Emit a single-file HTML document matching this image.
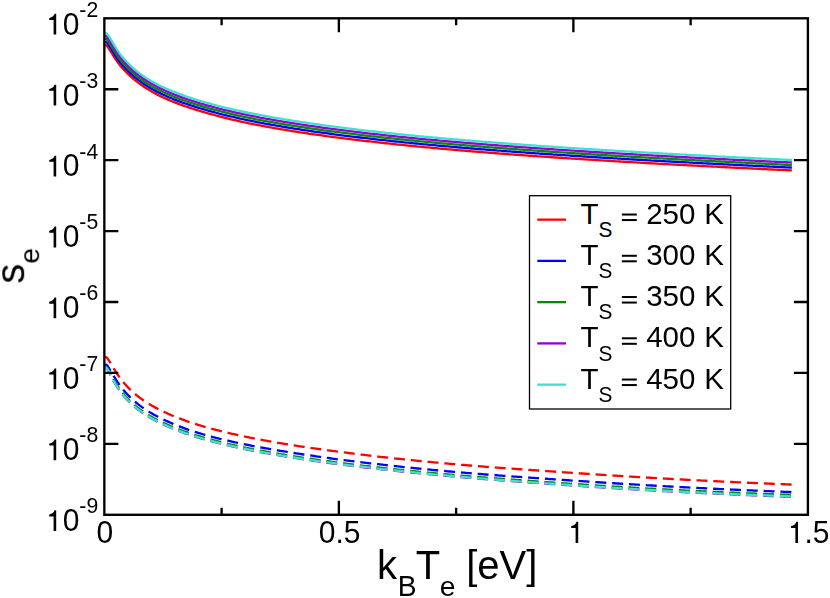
<!DOCTYPE html>
<html><head><meta charset="utf-8"><title>s_e vs k_B T_e</title>
<style>
html,body{margin:0;padding:0;background:#fff;}
body{width:830px;height:598px;overflow:hidden;}
svg{display:block;}
.t{will-change:opacity;opacity:0.999;}
text{font-family:"Liberation Sans",sans-serif;fill:#000;font-kerning:none;white-space:pre;}
</style></head><body>
<svg width="830" height="598" viewBox="0 0 830 598">
<rect width="830" height="598" fill="#fff"/>
<g fill="none" stroke-width="2.30" stroke-linejoin="round">
<path d="M104.90 45.02 L105.30 45.04 L105.70 45.10 L106.10 45.23 L106.50 45.50 L106.90 45.91 L107.30 46.39 L107.70 46.92 L108.10 47.48 L108.50 48.06 L108.90 48.66 L109.30 49.28 L109.70 49.90 L110.10 50.53 L110.50 51.17 L110.90 51.82 L111.30 52.46 L111.70 53.11 L112.10 53.75 L112.50 54.40 L112.90 55.04 L113.30 55.67 L113.70 56.30 L114.10 56.93 L114.50 57.55 L114.90 58.16 L115.30 58.77 L115.70 59.37 L116.10 59.96 L116.50 60.54 L116.90 61.12 L117.30 61.69 L117.70 62.26 L118.10 62.81 L118.50 63.36 L118.90 63.89 L119.30 64.42 L119.70 64.93 L120.10 65.43 L120.50 65.93 L120.90 66.41 L121.30 66.88 L121.70 67.35 L122.10 67.81 L122.50 68.26 L122.90 68.71 L123.30 69.14 L123.70 69.57 L124.10 70.00 L124.50 70.42 L124.90 70.84 L125.30 71.25 L125.70 71.65 L126.10 72.06 L126.50 72.46 L126.90 72.86 L127.30 73.25 L127.70 73.64 L128.10 74.04 L128.50 74.43 L128.90 74.81 L129.30 75.19 L129.70 75.56 L130.10 75.93 L130.50 76.30 L130.90 76.66 L131.30 77.02 L131.70 77.37 L132.10 77.72 L132.50 78.07 L132.90 78.41 L133.30 78.75 L133.70 79.09 L134.10 79.42 L134.50 79.75 L134.90 80.07 L135.30 80.39 L135.70 80.71 L136.10 81.03 L136.50 81.34 L136.90 81.65 L137.30 81.96 L137.70 82.26 L138.10 82.56 L138.50 82.86 L138.90 83.16 L139.30 83.45 L139.70 83.74 L140.00 83.96 L142.00 85.37 L144.00 86.75 L146.00 88.07 L148.00 89.34 L150.00 90.55 L152.00 91.70 L154.00 92.81 L156.00 93.88 L158.00 94.92 L160.00 95.91 L162.00 96.88 L164.00 97.81 L166.00 98.72 L168.00 99.60 L170.00 100.45 L172.00 101.28 L174.00 102.09 L176.00 102.88 L178.00 103.65 L180.00 104.39 L182.00 105.12 L184.00 105.83 L186.00 106.53 L188.00 107.21 L190.00 107.87 L192.00 108.52 L194.00 109.16 L196.00 109.78 L198.00 110.39 L200.00 111.00 L202.00 111.59 L204.00 112.17 L206.00 112.75 L208.00 113.32 L210.00 113.88 L212.00 114.43 L214.00 114.97 L216.00 115.51 L218.00 116.04 L220.00 116.56 L222.00 117.08 L224.00 117.58 L226.00 118.08 L228.00 118.58 L230.00 119.06 L232.00 119.54 L234.00 120.01 L236.00 120.47 L238.00 120.93 L240.00 121.38 L242.00 121.82 L244.00 122.25 L246.00 122.68 L248.00 123.10 L250.00 123.51 L252.00 123.91 L254.00 124.31 L256.00 124.70 L258.00 125.09 L260.00 125.48 L262.00 125.85 L264.00 126.23 L266.00 126.60 L268.00 126.97 L270.00 127.33 L272.00 127.68 L274.00 128.04 L276.00 128.39 L278.00 128.73 L280.00 129.07 L282.00 129.41 L284.00 129.74 L286.00 130.07 L288.00 130.40 L290.00 130.73 L292.00 131.05 L294.00 131.36 L296.00 131.68 L298.00 131.99 L300.00 132.29 L302.00 132.60 L304.00 132.90 L306.00 133.20 L308.00 133.49 L310.00 133.78 L312.00 134.07 L314.00 134.36 L316.00 134.64 L318.00 134.93 L320.00 135.21 L322.00 135.48 L324.00 135.76 L326.00 136.03 L328.00 136.30 L330.00 136.56 L332.00 136.83 L334.00 137.09 L336.00 137.35 L338.00 137.61 L340.00 137.86 L342.00 138.12 L344.00 138.37 L346.00 138.62 L348.00 138.87 L350.00 139.11 L352.00 139.36 L354.00 139.60 L356.00 139.84 L358.00 140.08 L360.00 140.32 L362.00 140.55 L364.00 140.79 L366.00 141.02 L368.00 141.25 L370.00 141.48 L372.00 141.71 L374.00 141.93 L376.00 142.16 L378.00 142.38 L380.00 142.60 L382.00 142.82 L384.00 143.04 L386.00 143.25 L388.00 143.47 L390.00 143.68 L392.00 143.89 L394.00 144.11 L396.00 144.31 L398.00 144.52 L400.00 144.73 L402.00 144.93 L404.00 145.14 L406.00 145.34 L408.00 145.54 L410.00 145.74 L412.00 145.94 L414.00 146.13 L416.00 146.33 L418.00 146.52 L420.00 146.72 L422.00 146.91 L424.00 147.10 L426.00 147.29 L428.00 147.48 L430.00 147.66 L432.00 147.85 L434.00 148.03 L436.00 148.22 L438.00 148.40 L440.00 148.58 L442.00 148.76 L444.00 148.94 L446.00 149.12 L448.00 149.29 L450.00 149.47 L452.00 149.64 L454.00 149.82 L456.00 149.99 L458.00 150.16 L460.00 150.33 L462.00 150.50 L464.00 150.67 L466.00 150.83 L468.00 151.00 L470.00 151.16 L472.00 151.33 L474.00 151.49 L476.00 151.65 L478.00 151.82 L480.00 151.98 L482.00 152.14 L484.00 152.30 L486.00 152.45 L488.00 152.61 L490.00 152.77 L492.00 152.92 L494.00 153.08 L496.00 153.23 L498.00 153.38 L500.00 153.54 L502.00 153.69 L504.00 153.84 L506.00 153.99 L508.00 154.14 L510.00 154.28 L512.00 154.43 L514.00 154.58 L516.00 154.73 L518.00 154.87 L520.00 155.02 L522.00 155.16 L524.00 155.30 L526.00 155.45 L528.00 155.59 L530.00 155.73 L532.00 155.87 L534.00 156.01 L536.00 156.15 L538.00 156.29 L540.00 156.43 L542.00 156.56 L544.00 156.70 L546.00 156.84 L548.00 156.97 L550.00 157.11 L552.00 157.24 L554.00 157.38 L556.00 157.51 L558.00 157.64 L560.00 157.77 L562.00 157.91 L564.00 158.04 L566.00 158.17 L568.00 158.30 L570.00 158.43 L572.00 158.56 L574.00 158.68 L576.00 158.81 L578.00 158.94 L580.00 159.07 L582.00 159.19 L584.00 159.32 L586.00 159.45 L588.00 159.57 L590.00 159.70 L592.00 159.82 L594.00 159.95 L596.00 160.07 L598.00 160.19 L600.00 160.31 L602.00 160.44 L604.00 160.56 L606.00 160.68 L608.00 160.80 L610.00 160.92 L612.00 161.04 L614.00 161.16 L616.00 161.28 L618.00 161.40 L620.00 161.52 L622.00 161.64 L624.00 161.75 L626.00 161.87 L628.00 161.99 L630.00 162.10 L632.00 162.22 L634.00 162.33 L636.00 162.45 L638.00 162.56 L640.00 162.67 L642.00 162.79 L644.00 162.90 L646.00 163.01 L648.00 163.12 L650.00 163.23 L652.00 163.34 L654.00 163.45 L656.00 163.56 L658.00 163.67 L660.00 163.78 L662.00 163.89 L664.00 164.00 L666.00 164.11 L668.00 164.22 L670.00 164.32 L672.00 164.43 L674.00 164.54 L676.00 164.64 L678.00 164.75 L680.00 164.86 L682.00 164.96 L684.00 165.07 L686.00 165.17 L688.00 165.28 L690.00 165.38 L692.00 165.49 L694.00 165.59 L696.00 165.69 L698.00 165.80 L700.00 165.90 L702.00 166.00 L704.00 166.11 L706.00 166.21 L708.00 166.31 L710.00 166.41 L712.00 166.52 L714.00 166.62 L716.00 166.72 L718.00 166.82 L720.00 166.92 L722.00 167.02 L724.00 167.12 L726.00 167.23 L728.00 167.33 L730.00 167.43 L732.00 167.53 L734.00 167.63 L736.00 167.73 L738.00 167.83 L740.00 167.92 L742.00 168.02 L744.00 168.12 L746.00 168.22 L748.00 168.32 L750.00 168.42 L752.00 168.51 L754.00 168.61 L756.00 168.71 L758.00 168.81 L760.00 168.90 L762.00 169.00 L764.00 169.10 L766.00 169.19 L768.00 169.29 L770.00 169.39 L772.00 169.48 L774.00 169.58 L776.00 169.67 L778.00 169.77 L780.00 169.86 L782.00 169.96 L784.00 170.05 L786.00 170.15 L788.00 170.24 L790.00 170.33 L791.90 170.42" stroke="#ff0000"/>
<path d="M104.90 41.79 L105.30 41.81 L105.70 41.87 L106.10 42.00 L106.50 42.26 L106.90 42.64 L107.30 43.11 L107.70 43.62 L108.10 44.17 L108.50 44.74 L108.90 45.34 L109.30 45.95 L109.70 46.57 L110.10 47.21 L110.50 47.85 L110.90 48.50 L111.30 49.16 L111.70 49.81 L112.10 50.47 L112.50 51.12 L112.90 51.77 L113.30 52.42 L113.70 53.06 L114.10 53.70 L114.50 54.33 L114.90 54.96 L115.30 55.58 L115.70 56.19 L116.10 56.80 L116.50 57.39 L116.90 57.99 L117.30 58.57 L117.70 59.15 L118.10 59.71 L118.50 60.27 L118.90 60.82 L119.30 61.35 L119.70 61.87 L120.10 62.38 L120.50 62.88 L120.90 63.38 L121.30 63.86 L121.70 64.33 L122.10 64.80 L122.50 65.25 L122.90 65.70 L123.30 66.15 L123.70 66.58 L124.10 67.02 L124.50 67.44 L124.90 67.86 L125.30 68.28 L125.70 68.69 L126.10 69.10 L126.50 69.51 L126.90 69.91 L127.30 70.31 L127.70 70.71 L128.10 71.11 L128.50 71.51 L128.90 71.90 L129.30 72.28 L129.70 72.67 L130.10 73.04 L130.50 73.42 L130.90 73.78 L131.30 74.15 L131.70 74.51 L132.10 74.86 L132.50 75.22 L132.90 75.56 L133.30 75.91 L133.70 76.25 L134.10 76.59 L134.50 76.92 L134.90 77.25 L135.30 77.58 L135.70 77.90 L136.10 78.22 L136.50 78.54 L136.90 78.85 L137.30 79.16 L137.70 79.47 L138.10 79.77 L138.50 80.08 L138.90 80.38 L139.30 80.67 L139.70 80.96 L140.00 81.18 L142.00 82.61 L144.00 83.98 L146.00 85.31 L148.00 86.58 L150.00 87.78 L152.00 88.94 L154.00 90.05 L156.00 91.12 L158.00 92.16 L160.00 93.15 L162.00 94.12 L164.00 95.06 L166.00 95.96 L168.00 96.84 L170.00 97.69 L172.00 98.52 L174.00 99.33 L176.00 100.12 L178.00 100.89 L180.00 101.64 L182.00 102.37 L184.00 103.08 L186.00 103.78 L188.00 104.46 L190.00 105.12 L192.00 105.78 L194.00 106.42 L196.00 107.04 L198.00 107.66 L200.00 108.26 L202.00 108.85 L204.00 109.43 L206.00 110.01 L208.00 110.57 L210.00 111.13 L212.00 111.68 L214.00 112.22 L216.00 112.75 L218.00 113.28 L220.00 113.80 L222.00 114.30 L224.00 114.81 L226.00 115.30 L228.00 115.79 L230.00 116.27 L232.00 116.74 L234.00 117.21 L236.00 117.67 L238.00 118.12 L240.00 118.56 L242.00 119.00 L244.00 119.43 L246.00 119.86 L248.00 120.27 L250.00 120.68 L252.00 121.08 L254.00 121.48 L256.00 121.88 L258.00 122.26 L260.00 122.65 L262.00 123.03 L264.00 123.40 L266.00 123.77 L268.00 124.14 L270.00 124.50 L272.00 124.85 L274.00 125.21 L276.00 125.56 L278.00 125.90 L280.00 126.24 L282.00 126.58 L284.00 126.91 L286.00 127.25 L288.00 127.57 L290.00 127.90 L292.00 128.22 L294.00 128.53 L296.00 128.85 L298.00 129.16 L300.00 129.47 L302.00 129.77 L304.00 130.07 L306.00 130.37 L308.00 130.67 L310.00 130.96 L312.00 131.25 L314.00 131.54 L316.00 131.82 L318.00 132.10 L320.00 132.38 L322.00 132.66 L324.00 132.93 L326.00 133.20 L328.00 133.47 L330.00 133.74 L332.00 134.01 L334.00 134.27 L336.00 134.53 L338.00 134.79 L340.00 135.04 L342.00 135.30 L344.00 135.55 L346.00 135.80 L348.00 136.05 L350.00 136.30 L352.00 136.54 L354.00 136.78 L356.00 137.02 L358.00 137.26 L360.00 137.50 L362.00 137.74 L364.00 137.97 L366.00 138.20 L368.00 138.43 L370.00 138.66 L372.00 138.89 L374.00 139.12 L376.00 139.34 L378.00 139.56 L380.00 139.79 L382.00 140.00 L384.00 140.22 L386.00 140.44 L388.00 140.65 L390.00 140.87 L392.00 141.08 L394.00 141.29 L396.00 141.50 L398.00 141.71 L400.00 141.91 L402.00 142.12 L404.00 142.32 L406.00 142.52 L408.00 142.72 L410.00 142.92 L412.00 143.12 L414.00 143.32 L416.00 143.51 L418.00 143.71 L420.00 143.90 L422.00 144.09 L424.00 144.28 L426.00 144.47 L428.00 144.65 L430.00 144.84 L432.00 145.02 L434.00 145.21 L436.00 145.39 L438.00 145.57 L440.00 145.75 L442.00 145.93 L444.00 146.11 L446.00 146.28 L448.00 146.46 L450.00 146.64 L452.00 146.81 L454.00 146.98 L456.00 147.15 L458.00 147.32 L460.00 147.49 L462.00 147.66 L464.00 147.83 L466.00 148.00 L468.00 148.16 L470.00 148.33 L472.00 148.49 L474.00 148.65 L476.00 148.82 L478.00 148.98 L480.00 149.14 L482.00 149.30 L484.00 149.46 L486.00 149.61 L488.00 149.77 L490.00 149.93 L492.00 150.08 L494.00 150.24 L496.00 150.39 L498.00 150.54 L500.00 150.70 L502.00 150.85 L504.00 151.00 L506.00 151.15 L508.00 151.30 L510.00 151.45 L512.00 151.59 L514.00 151.74 L516.00 151.89 L518.00 152.03 L520.00 152.18 L522.00 152.32 L524.00 152.47 L526.00 152.61 L528.00 152.75 L530.00 152.89 L532.00 153.03 L534.00 153.17 L536.00 153.31 L538.00 153.45 L540.00 153.59 L542.00 153.73 L544.00 153.87 L546.00 154.00 L548.00 154.14 L550.00 154.27 L552.00 154.41 L554.00 154.54 L556.00 154.68 L558.00 154.81 L560.00 154.94 L562.00 155.07 L564.00 155.21 L566.00 155.34 L568.00 155.47 L570.00 155.60 L572.00 155.73 L574.00 155.86 L576.00 155.98 L578.00 156.11 L580.00 156.24 L582.00 156.37 L584.00 156.49 L586.00 156.62 L588.00 156.74 L590.00 156.87 L592.00 156.99 L594.00 157.12 L596.00 157.24 L598.00 157.37 L600.00 157.49 L602.00 157.61 L604.00 157.73 L606.00 157.85 L608.00 157.98 L610.00 158.10 L612.00 158.22 L614.00 158.34 L616.00 158.46 L618.00 158.58 L620.00 158.69 L622.00 158.81 L624.00 158.93 L626.00 159.05 L628.00 159.16 L630.00 159.28 L632.00 159.40 L634.00 159.51 L636.00 159.63 L638.00 159.74 L640.00 159.85 L642.00 159.97 L644.00 160.08 L646.00 160.19 L648.00 160.30 L650.00 160.42 L652.00 160.53 L654.00 160.64 L656.00 160.75 L658.00 160.86 L660.00 160.97 L662.00 161.08 L664.00 161.19 L666.00 161.30 L668.00 161.40 L670.00 161.51 L672.00 161.62 L674.00 161.73 L676.00 161.83 L678.00 161.94 L680.00 162.05 L682.00 162.15 L684.00 162.26 L686.00 162.36 L688.00 162.47 L690.00 162.57 L692.00 162.68 L694.00 162.78 L696.00 162.89 L698.00 162.99 L700.00 163.09 L702.00 163.20 L704.00 163.30 L706.00 163.40 L708.00 163.51 L710.00 163.61 L712.00 163.71 L714.00 163.81 L716.00 163.91 L718.00 164.02 L720.00 164.12 L722.00 164.22 L724.00 164.32 L726.00 164.42 L728.00 164.52 L730.00 164.62 L732.00 164.72 L734.00 164.82 L736.00 164.92 L738.00 165.02 L740.00 165.12 L742.00 165.22 L744.00 165.32 L746.00 165.41 L748.00 165.51 L750.00 165.61 L752.00 165.71 L754.00 165.81 L756.00 165.90 L758.00 166.00 L760.00 166.10 L762.00 166.19 L764.00 166.29 L766.00 166.38 L768.00 166.48 L770.00 166.58 L772.00 166.67 L774.00 166.77 L776.00 166.86 L778.00 166.96 L780.00 167.05 L782.00 167.15 L784.00 167.24 L786.00 167.33 L788.00 167.43 L790.00 167.52 L791.90 167.61" stroke="#0000ff"/>
<path d="M104.90 38.80 L105.30 38.82 L105.70 38.88 L106.10 39.01 L106.50 39.25 L106.90 39.62 L107.30 40.06 L107.70 40.57 L108.10 41.10 L108.50 41.67 L108.90 42.26 L109.30 42.87 L109.70 43.49 L110.10 44.13 L110.50 44.78 L110.90 45.44 L111.30 46.10 L111.70 46.76 L112.10 47.42 L112.50 48.09 L112.90 48.75 L113.30 49.41 L113.70 50.06 L114.10 50.71 L114.50 51.35 L114.90 51.99 L115.30 52.62 L115.70 53.25 L116.10 53.87 L116.50 54.48 L116.90 55.08 L117.30 55.68 L117.70 56.26 L118.10 56.84 L118.50 57.41 L118.90 57.97 L119.30 58.51 L119.70 59.04 L120.10 59.56 L120.50 60.07 L120.90 60.57 L121.30 61.06 L121.70 61.54 L122.10 62.01 L122.50 62.47 L122.90 62.93 L123.30 63.37 L123.70 63.82 L124.10 64.25 L124.50 64.68 L124.90 65.11 L125.30 65.53 L125.70 65.95 L126.10 66.36 L126.50 66.77 L126.90 67.18 L127.30 67.59 L127.70 68.00 L128.10 68.40 L128.50 68.80 L128.90 69.20 L129.30 69.59 L129.70 69.98 L130.10 70.37 L130.50 70.74 L130.90 71.12 L131.30 71.49 L131.70 71.85 L132.10 72.22 L132.50 72.57 L132.90 72.93 L133.30 73.28 L133.70 73.62 L134.10 73.96 L134.50 74.30 L134.90 74.64 L135.30 74.97 L135.70 75.30 L136.10 75.62 L136.50 75.94 L136.90 76.26 L137.30 76.57 L137.70 76.88 L138.10 77.19 L138.50 77.50 L138.90 77.80 L139.30 78.10 L139.70 78.40 L140.00 78.62 L142.00 80.05 L144.00 81.43 L146.00 82.75 L148.00 84.02 L150.00 85.22 L152.00 86.38 L154.00 87.49 L156.00 88.57 L158.00 89.60 L160.00 90.60 L162.00 91.56 L164.00 92.50 L166.00 93.41 L168.00 94.29 L170.00 95.14 L172.00 95.97 L174.00 96.78 L176.00 97.57 L178.00 98.34 L180.00 99.09 L182.00 99.82 L184.00 100.53 L186.00 101.23 L188.00 101.91 L190.00 102.58 L192.00 103.24 L194.00 103.88 L196.00 104.50 L198.00 105.12 L200.00 105.72 L202.00 106.31 L204.00 106.90 L206.00 107.47 L208.00 108.03 L210.00 108.59 L212.00 109.13 L214.00 109.67 L216.00 110.20 L218.00 110.72 L220.00 111.23 L222.00 111.74 L224.00 112.24 L226.00 112.73 L228.00 113.21 L230.00 113.69 L232.00 114.15 L234.00 114.62 L236.00 115.07 L238.00 115.52 L240.00 115.96 L242.00 116.39 L244.00 116.82 L246.00 117.24 L248.00 117.66 L250.00 118.07 L252.00 118.47 L254.00 118.87 L256.00 119.26 L258.00 119.65 L260.00 120.03 L262.00 120.41 L264.00 120.78 L266.00 121.15 L268.00 121.51 L270.00 121.88 L272.00 122.23 L274.00 122.59 L276.00 122.94 L278.00 123.28 L280.00 123.62 L282.00 123.96 L284.00 124.29 L286.00 124.62 L288.00 124.95 L290.00 125.28 L292.00 125.60 L294.00 125.91 L296.00 126.23 L298.00 126.54 L300.00 126.85 L302.00 127.15 L304.00 127.45 L306.00 127.75 L308.00 128.05 L310.00 128.34 L312.00 128.63 L314.00 128.92 L316.00 129.21 L318.00 129.49 L320.00 129.77 L322.00 130.04 L324.00 130.32 L326.00 130.59 L328.00 130.86 L330.00 131.13 L332.00 131.39 L334.00 131.65 L336.00 131.92 L338.00 132.17 L340.00 132.43 L342.00 132.69 L344.00 132.94 L346.00 133.19 L348.00 133.44 L350.00 133.68 L352.00 133.93 L354.00 134.17 L356.00 134.41 L358.00 134.65 L360.00 134.89 L362.00 135.13 L364.00 135.36 L366.00 135.60 L368.00 135.83 L370.00 136.06 L372.00 136.28 L374.00 136.51 L376.00 136.73 L378.00 136.96 L380.00 137.18 L382.00 137.40 L384.00 137.62 L386.00 137.83 L388.00 138.05 L390.00 138.26 L392.00 138.47 L394.00 138.68 L396.00 138.89 L398.00 139.10 L400.00 139.31 L402.00 139.51 L404.00 139.71 L406.00 139.92 L408.00 140.12 L410.00 140.31 L412.00 140.51 L414.00 140.71 L416.00 140.90 L418.00 141.09 L420.00 141.29 L422.00 141.48 L424.00 141.67 L426.00 141.85 L428.00 142.04 L430.00 142.22 L432.00 142.41 L434.00 142.59 L436.00 142.77 L438.00 142.95 L440.00 143.13 L442.00 143.31 L444.00 143.49 L446.00 143.66 L448.00 143.84 L450.00 144.01 L452.00 144.19 L454.00 144.36 L456.00 144.53 L458.00 144.70 L460.00 144.87 L462.00 145.04 L464.00 145.20 L466.00 145.37 L468.00 145.54 L470.00 145.70 L472.00 145.86 L474.00 146.03 L476.00 146.19 L478.00 146.35 L480.00 146.51 L482.00 146.67 L484.00 146.83 L486.00 146.99 L488.00 147.14 L490.00 147.30 L492.00 147.45 L494.00 147.61 L496.00 147.76 L498.00 147.92 L500.00 148.07 L502.00 148.22 L504.00 148.37 L506.00 148.52 L508.00 148.67 L510.00 148.82 L512.00 148.97 L514.00 149.11 L516.00 149.26 L518.00 149.40 L520.00 149.55 L522.00 149.69 L524.00 149.84 L526.00 149.98 L528.00 150.12 L530.00 150.27 L532.00 150.41 L534.00 150.55 L536.00 150.69 L538.00 150.83 L540.00 150.96 L542.00 151.10 L544.00 151.24 L546.00 151.38 L548.00 151.51 L550.00 151.65 L552.00 151.78 L554.00 151.92 L556.00 152.05 L558.00 152.19 L560.00 152.32 L562.00 152.45 L564.00 152.58 L566.00 152.71 L568.00 152.85 L570.00 152.98 L572.00 153.11 L574.00 153.24 L576.00 153.36 L578.00 153.49 L580.00 153.62 L582.00 153.75 L584.00 153.87 L586.00 154.00 L588.00 154.13 L590.00 154.25 L592.00 154.38 L594.00 154.50 L596.00 154.63 L598.00 154.75 L600.00 154.87 L602.00 154.99 L604.00 155.12 L606.00 155.24 L608.00 155.36 L610.00 155.48 L612.00 155.60 L614.00 155.72 L616.00 155.84 L618.00 155.96 L620.00 156.08 L622.00 156.20 L624.00 156.32 L626.00 156.43 L628.00 156.55 L630.00 156.67 L632.00 156.78 L634.00 156.90 L636.00 157.01 L638.00 157.13 L640.00 157.24 L642.00 157.36 L644.00 157.47 L646.00 157.58 L648.00 157.69 L650.00 157.81 L652.00 157.92 L654.00 158.03 L656.00 158.14 L658.00 158.25 L660.00 158.36 L662.00 158.47 L664.00 158.58 L666.00 158.69 L668.00 158.80 L670.00 158.91 L672.00 159.02 L674.00 159.12 L676.00 159.23 L678.00 159.34 L680.00 159.44 L682.00 159.55 L684.00 159.66 L686.00 159.76 L688.00 159.87 L690.00 159.97 L692.00 160.08 L694.00 160.18 L696.00 160.29 L698.00 160.39 L700.00 160.50 L702.00 160.60 L704.00 160.70 L706.00 160.81 L708.00 160.91 L710.00 161.01 L712.00 161.11 L714.00 161.22 L716.00 161.32 L718.00 161.42 L720.00 161.52 L722.00 161.62 L724.00 161.72 L726.00 161.82 L728.00 161.92 L730.00 162.03 L732.00 162.12 L734.00 162.22 L736.00 162.32 L738.00 162.42 L740.00 162.52 L742.00 162.62 L744.00 162.72 L746.00 162.82 L748.00 162.91 L750.00 163.01 L752.00 163.11 L754.00 163.21 L756.00 163.30 L758.00 163.40 L760.00 163.50 L762.00 163.59 L764.00 163.69 L766.00 163.78 L768.00 163.88 L770.00 163.97 L772.00 164.07 L774.00 164.16 L776.00 164.26 L778.00 164.35 L780.00 164.45 L782.00 164.54 L784.00 164.63 L786.00 164.73 L788.00 164.82 L790.00 164.91 L791.90 165.00" stroke="#008b00"/>
<path d="M104.90 35.93 L105.30 35.95 L105.70 36.01 L106.10 36.13 L106.50 36.37 L106.90 36.71 L107.30 37.14 L107.70 37.63 L108.10 38.16 L108.50 38.72 L108.90 39.30 L109.30 39.91 L109.70 40.54 L110.10 41.18 L110.50 41.83 L110.90 42.49 L111.30 43.16 L111.70 43.83 L112.10 44.50 L112.50 45.17 L112.90 45.84 L113.30 46.51 L113.70 47.18 L114.10 47.84 L114.50 48.50 L114.90 49.15 L115.30 49.79 L115.70 50.43 L116.10 51.06 L116.50 51.68 L116.90 52.29 L117.30 52.90 L117.70 53.50 L118.10 54.09 L118.50 54.66 L118.90 55.23 L119.30 55.78 L119.70 56.32 L120.10 56.85 L120.50 57.37 L120.90 57.87 L121.30 58.37 L121.70 58.85 L122.10 59.33 L122.50 59.80 L122.90 60.26 L123.30 60.71 L123.70 61.16 L124.10 61.60 L124.50 62.03 L124.90 62.46 L125.30 62.89 L125.70 63.31 L126.10 63.73 L126.50 64.15 L126.90 64.56 L127.30 64.98 L127.70 65.39 L128.10 65.80 L128.50 66.21 L128.90 66.61 L129.30 67.01 L129.70 67.41 L130.10 67.80 L130.50 68.18 L130.90 68.56 L131.30 68.94 L131.70 69.31 L132.10 69.67 L132.50 70.04 L132.90 70.39 L133.30 70.75 L133.70 71.10 L134.10 71.45 L134.50 71.79 L134.90 72.13 L135.30 72.46 L135.70 72.80 L136.10 73.12 L136.50 73.45 L136.90 73.77 L137.30 74.09 L137.70 74.40 L138.10 74.71 L138.50 75.02 L138.90 75.33 L139.30 75.63 L139.70 75.93 L140.00 76.15 L142.00 77.59 L144.00 78.97 L146.00 80.29 L148.00 81.56 L150.00 82.77 L152.00 83.92 L154.00 85.04 L156.00 86.11 L158.00 87.15 L160.00 88.14 L162.00 89.11 L164.00 90.05 L166.00 90.95 L168.00 91.83 L170.00 92.69 L172.00 93.51 L174.00 94.32 L176.00 95.11 L178.00 95.88 L180.00 96.64 L182.00 97.37 L184.00 98.09 L186.00 98.79 L188.00 99.47 L190.00 100.14 L192.00 100.80 L194.00 101.44 L196.00 102.07 L198.00 102.68 L200.00 103.29 L202.00 103.88 L204.00 104.46 L206.00 105.03 L208.00 105.59 L210.00 106.15 L212.00 106.69 L214.00 107.22 L216.00 107.75 L218.00 108.27 L220.00 108.77 L222.00 109.28 L224.00 109.77 L226.00 110.25 L228.00 110.73 L230.00 111.20 L232.00 111.67 L234.00 112.13 L236.00 112.58 L238.00 113.02 L240.00 113.46 L242.00 113.89 L244.00 114.32 L246.00 114.74 L248.00 115.15 L250.00 115.56 L252.00 115.96 L254.00 116.35 L256.00 116.74 L258.00 117.13 L260.00 117.51 L262.00 117.89 L264.00 118.27 L266.00 118.63 L268.00 119.00 L270.00 119.36 L272.00 119.72 L274.00 120.07 L276.00 120.42 L278.00 120.76 L280.00 121.11 L282.00 121.44 L284.00 121.78 L286.00 122.11 L288.00 122.44 L290.00 122.76 L292.00 123.08 L294.00 123.40 L296.00 123.71 L298.00 124.03 L300.00 124.33 L302.00 124.64 L304.00 124.94 L306.00 125.24 L308.00 125.54 L310.00 125.83 L312.00 126.12 L314.00 126.41 L316.00 126.70 L318.00 126.98 L320.00 127.26 L322.00 127.54 L324.00 127.81 L326.00 128.08 L328.00 128.35 L330.00 128.62 L332.00 128.88 L334.00 129.15 L336.00 129.41 L338.00 129.67 L340.00 129.92 L342.00 130.18 L344.00 130.43 L346.00 130.68 L348.00 130.93 L350.00 131.18 L352.00 131.42 L354.00 131.67 L356.00 131.91 L358.00 132.15 L360.00 132.39 L362.00 132.62 L364.00 132.86 L366.00 133.09 L368.00 133.32 L370.00 133.55 L372.00 133.78 L374.00 134.01 L376.00 134.23 L378.00 134.45 L380.00 134.68 L382.00 134.90 L384.00 135.11 L386.00 135.33 L388.00 135.55 L390.00 135.76 L392.00 135.97 L394.00 136.18 L396.00 136.39 L398.00 136.60 L400.00 136.80 L402.00 137.01 L404.00 137.21 L406.00 137.41 L408.00 137.61 L410.00 137.81 L412.00 138.01 L414.00 138.20 L416.00 138.40 L418.00 138.59 L420.00 138.78 L422.00 138.97 L424.00 139.16 L426.00 139.34 L428.00 139.53 L430.00 139.71 L432.00 139.90 L434.00 140.08 L436.00 140.26 L438.00 140.44 L440.00 140.62 L442.00 140.79 L444.00 140.97 L446.00 141.15 L448.00 141.32 L450.00 141.49 L452.00 141.67 L454.00 141.84 L456.00 142.01 L458.00 142.18 L460.00 142.35 L462.00 142.52 L464.00 142.68 L466.00 142.85 L468.00 143.01 L470.00 143.18 L472.00 143.34 L474.00 143.50 L476.00 143.67 L478.00 143.83 L480.00 143.99 L482.00 144.15 L484.00 144.30 L486.00 144.46 L488.00 144.62 L490.00 144.78 L492.00 144.93 L494.00 145.08 L496.00 145.24 L498.00 145.39 L500.00 145.54 L502.00 145.70 L504.00 145.85 L506.00 146.00 L508.00 146.15 L510.00 146.29 L512.00 146.44 L514.00 146.59 L516.00 146.74 L518.00 146.88 L520.00 147.03 L522.00 147.17 L524.00 147.32 L526.00 147.46 L528.00 147.60 L530.00 147.74 L532.00 147.89 L534.00 148.03 L536.00 148.17 L538.00 148.31 L540.00 148.44 L542.00 148.58 L544.00 148.72 L546.00 148.86 L548.00 148.99 L550.00 149.13 L552.00 149.27 L554.00 149.40 L556.00 149.54 L558.00 149.67 L560.00 149.80 L562.00 149.93 L564.00 150.07 L566.00 150.20 L568.00 150.33 L570.00 150.46 L572.00 150.59 L574.00 150.72 L576.00 150.85 L578.00 150.98 L580.00 151.11 L582.00 151.23 L584.00 151.36 L586.00 151.49 L588.00 151.61 L590.00 151.74 L592.00 151.86 L594.00 151.99 L596.00 152.11 L598.00 152.24 L600.00 152.36 L602.00 152.48 L604.00 152.61 L606.00 152.73 L608.00 152.85 L610.00 152.97 L612.00 153.09 L614.00 153.21 L616.00 153.33 L618.00 153.45 L620.00 153.57 L622.00 153.69 L624.00 153.81 L626.00 153.92 L628.00 154.04 L630.00 154.16 L632.00 154.27 L634.00 154.39 L636.00 154.50 L638.00 154.62 L640.00 154.73 L642.00 154.85 L644.00 154.96 L646.00 155.08 L648.00 155.19 L650.00 155.30 L652.00 155.41 L654.00 155.53 L656.00 155.64 L658.00 155.75 L660.00 155.86 L662.00 155.97 L664.00 156.08 L666.00 156.19 L668.00 156.30 L670.00 156.41 L672.00 156.52 L674.00 156.62 L676.00 156.73 L678.00 156.84 L680.00 156.95 L682.00 157.05 L684.00 157.16 L686.00 157.27 L688.00 157.37 L690.00 157.48 L692.00 157.58 L694.00 157.69 L696.00 157.79 L698.00 157.90 L700.00 158.00 L702.00 158.11 L704.00 158.21 L706.00 158.31 L708.00 158.42 L710.00 158.52 L712.00 158.62 L714.00 158.72 L716.00 158.83 L718.00 158.93 L720.00 159.03 L722.00 159.13 L724.00 159.23 L726.00 159.33 L728.00 159.43 L730.00 159.53 L732.00 159.63 L734.00 159.73 L736.00 159.83 L738.00 159.93 L740.00 160.03 L742.00 160.13 L744.00 160.22 L746.00 160.32 L748.00 160.42 L750.00 160.52 L752.00 160.61 L754.00 160.71 L756.00 160.81 L758.00 160.90 L760.00 161.00 L762.00 161.10 L764.00 161.19 L766.00 161.29 L768.00 161.38 L770.00 161.48 L772.00 161.57 L774.00 161.67 L776.00 161.76 L778.00 161.85 L780.00 161.95 L782.00 162.04 L784.00 162.13 L786.00 162.23 L788.00 162.32 L790.00 162.41 L791.90 162.50" stroke="#9400d3"/>
<path d="M104.90 33.05 L105.30 33.08 L105.70 33.14 L106.10 33.26 L106.50 33.48 L106.90 33.81 L107.30 34.23 L107.70 34.70 L108.10 35.22 L108.50 35.77 L108.90 36.35 L109.30 36.95 L109.70 37.58 L110.10 38.22 L110.50 38.88 L110.90 39.54 L111.30 40.22 L111.70 40.90 L112.10 41.58 L112.50 42.26 L112.90 42.94 L113.30 43.62 L113.70 44.30 L114.10 44.97 L114.50 45.64 L114.90 46.30 L115.30 46.95 L115.70 47.60 L116.10 48.24 L116.50 48.88 L116.90 49.50 L117.30 50.12 L117.70 50.73 L118.10 51.33 L118.50 51.92 L118.90 52.49 L119.30 53.05 L119.70 53.60 L120.10 54.14 L120.50 54.66 L120.90 55.17 L121.30 55.68 L121.70 56.17 L122.10 56.65 L122.50 57.12 L122.90 57.59 L123.30 58.05 L123.70 58.50 L124.10 58.95 L124.50 59.39 L124.90 59.82 L125.30 60.25 L125.70 60.68 L126.10 61.10 L126.50 61.52 L126.90 61.94 L127.30 62.36 L127.70 62.78 L128.10 63.20 L128.50 63.62 L128.90 64.03 L129.30 64.43 L129.70 64.83 L130.10 65.23 L130.50 65.62 L130.90 66.00 L131.30 66.38 L131.70 66.76 L132.10 67.13 L132.50 67.50 L132.90 67.86 L133.30 68.22 L133.70 68.58 L134.10 68.93 L134.50 69.28 L134.90 69.62 L135.30 69.96 L135.70 70.29 L136.10 70.63 L136.50 70.96 L136.90 71.28 L137.30 71.60 L137.70 71.92 L138.10 72.24 L138.50 72.55 L138.90 72.85 L139.30 73.16 L139.70 73.46 L140.00 73.69 L142.00 75.14 L144.00 76.52 L146.00 77.84 L148.00 79.10 L150.00 80.31 L152.00 81.47 L154.00 82.58 L156.00 83.66 L158.00 84.69 L160.00 85.69 L162.00 86.66 L164.00 87.59 L166.00 88.50 L168.00 89.38 L170.00 90.23 L172.00 91.06 L174.00 91.87 L176.00 92.66 L178.00 93.43 L180.00 94.19 L182.00 94.92 L184.00 95.64 L186.00 96.34 L188.00 97.03 L190.00 97.70 L192.00 98.36 L194.00 99.00 L196.00 99.63 L198.00 100.25 L200.00 100.85 L202.00 101.44 L204.00 102.02 L206.00 102.59 L208.00 103.15 L210.00 103.70 L212.00 104.24 L214.00 104.77 L216.00 105.30 L218.00 105.81 L220.00 106.32 L222.00 106.81 L224.00 107.30 L226.00 107.78 L228.00 108.26 L230.00 108.72 L232.00 109.18 L234.00 109.64 L236.00 110.08 L238.00 110.53 L240.00 110.96 L242.00 111.39 L244.00 111.81 L246.00 112.23 L248.00 112.64 L250.00 113.04 L252.00 113.45 L254.00 113.84 L256.00 114.23 L258.00 114.62 L260.00 115.00 L262.00 115.38 L264.00 115.75 L266.00 116.12 L268.00 116.48 L270.00 116.84 L272.00 117.20 L274.00 117.55 L276.00 117.90 L278.00 118.25 L280.00 118.59 L282.00 118.93 L284.00 119.26 L286.00 119.59 L288.00 119.92 L290.00 120.25 L292.00 120.57 L294.00 120.89 L296.00 121.20 L298.00 121.51 L300.00 121.82 L302.00 122.13 L304.00 122.43 L306.00 122.73 L308.00 123.03 L310.00 123.32 L312.00 123.61 L314.00 123.90 L316.00 124.18 L318.00 124.47 L320.00 124.75 L322.00 125.03 L324.00 125.30 L326.00 125.57 L328.00 125.84 L330.00 126.11 L332.00 126.38 L334.00 126.64 L336.00 126.90 L338.00 127.16 L340.00 127.42 L342.00 127.67 L344.00 127.92 L346.00 128.18 L348.00 128.42 L350.00 128.67 L352.00 128.92 L354.00 129.16 L356.00 129.40 L358.00 129.64 L360.00 129.88 L362.00 130.12 L364.00 130.35 L366.00 130.59 L368.00 130.82 L370.00 131.05 L372.00 131.28 L374.00 131.50 L376.00 131.73 L378.00 131.95 L380.00 132.17 L382.00 132.39 L384.00 132.61 L386.00 132.83 L388.00 133.04 L390.00 133.26 L392.00 133.47 L394.00 133.68 L396.00 133.89 L398.00 134.09 L400.00 134.30 L402.00 134.50 L404.00 134.71 L406.00 134.91 L408.00 135.11 L410.00 135.31 L412.00 135.50 L414.00 135.70 L416.00 135.89 L418.00 136.08 L420.00 136.27 L422.00 136.46 L424.00 136.65 L426.00 136.84 L428.00 137.02 L430.00 137.20 L432.00 137.39 L434.00 137.57 L436.00 137.75 L438.00 137.93 L440.00 138.10 L442.00 138.28 L444.00 138.46 L446.00 138.63 L448.00 138.80 L450.00 138.98 L452.00 139.15 L454.00 139.32 L456.00 139.49 L458.00 139.66 L460.00 139.83 L462.00 140.00 L464.00 140.16 L466.00 140.33 L468.00 140.49 L470.00 140.66 L472.00 140.82 L474.00 140.98 L476.00 141.14 L478.00 141.30 L480.00 141.46 L482.00 141.62 L484.00 141.78 L486.00 141.94 L488.00 142.10 L490.00 142.25 L492.00 142.41 L494.00 142.56 L496.00 142.71 L498.00 142.87 L500.00 143.02 L502.00 143.17 L504.00 143.32 L506.00 143.47 L508.00 143.62 L510.00 143.77 L512.00 143.92 L514.00 144.07 L516.00 144.21 L518.00 144.36 L520.00 144.50 L522.00 144.65 L524.00 144.79 L526.00 144.94 L528.00 145.08 L530.00 145.22 L532.00 145.36 L534.00 145.50 L536.00 145.65 L538.00 145.79 L540.00 145.92 L542.00 146.06 L544.00 146.20 L546.00 146.34 L548.00 146.48 L550.00 146.61 L552.00 146.75 L554.00 146.88 L556.00 147.02 L558.00 147.15 L560.00 147.28 L562.00 147.42 L564.00 147.55 L566.00 147.68 L568.00 147.81 L570.00 147.94 L572.00 148.07 L574.00 148.20 L576.00 148.33 L578.00 148.46 L580.00 148.59 L582.00 148.72 L584.00 148.85 L586.00 148.97 L588.00 149.10 L590.00 149.23 L592.00 149.35 L594.00 149.48 L596.00 149.60 L598.00 149.72 L600.00 149.85 L602.00 149.97 L604.00 150.09 L606.00 150.22 L608.00 150.34 L610.00 150.46 L612.00 150.58 L614.00 150.70 L616.00 150.82 L618.00 150.94 L620.00 151.06 L622.00 151.18 L624.00 151.30 L626.00 151.41 L628.00 151.53 L630.00 151.65 L632.00 151.76 L634.00 151.88 L636.00 152.00 L638.00 152.11 L640.00 152.23 L642.00 152.34 L644.00 152.46 L646.00 152.57 L648.00 152.68 L650.00 152.80 L652.00 152.91 L654.00 153.02 L656.00 153.13 L658.00 153.25 L660.00 153.36 L662.00 153.47 L664.00 153.58 L666.00 153.69 L668.00 153.80 L670.00 153.91 L672.00 154.02 L674.00 154.13 L676.00 154.23 L678.00 154.34 L680.00 154.45 L682.00 154.56 L684.00 154.66 L686.00 154.77 L688.00 154.88 L690.00 154.98 L692.00 155.09 L694.00 155.19 L696.00 155.30 L698.00 155.40 L700.00 155.51 L702.00 155.61 L704.00 155.72 L706.00 155.82 L708.00 155.92 L710.00 156.03 L712.00 156.13 L714.00 156.23 L716.00 156.33 L718.00 156.44 L720.00 156.54 L722.00 156.64 L724.00 156.74 L726.00 156.84 L728.00 156.94 L730.00 157.04 L732.00 157.14 L734.00 157.24 L736.00 157.34 L738.00 157.44 L740.00 157.53 L742.00 157.63 L744.00 157.73 L746.00 157.83 L748.00 157.93 L750.00 158.02 L752.00 158.12 L754.00 158.22 L756.00 158.31 L758.00 158.41 L760.00 158.50 L762.00 158.60 L764.00 158.70 L766.00 158.79 L768.00 158.89 L770.00 158.98 L772.00 159.07 L774.00 159.17 L776.00 159.26 L778.00 159.36 L780.00 159.45 L782.00 159.54 L784.00 159.63 L786.00 159.73 L788.00 159.82 L790.00 159.91 L791.90 160.00" stroke="#40e0d0"/>
</g>
<g fill="none" stroke-width="2.30" stroke-linejoin="round" stroke-dasharray="11 5.85">
<path d="M104.40 357.51 L104.80 357.33 L105.20 357.19 L105.60 357.10 L106.00 357.11 L106.40 357.26 L106.80 357.60 L107.20 358.05 L107.60 358.57 L108.00 359.12 L108.40 359.71 L108.80 360.32 L109.20 360.94 L109.60 361.58 L110.00 362.24 L110.40 362.90 L110.80 363.56 L111.20 364.24 L111.60 364.91 L112.00 365.58 L112.40 366.26 L112.80 366.93 L113.20 367.59 L113.60 368.25 L114.00 368.91 L114.40 369.56 L114.80 370.21 L115.20 370.84 L115.60 371.47 L116.00 372.10 L116.40 372.71 L116.80 373.32 L117.20 373.92 L117.60 374.51 L118.00 375.10 L118.40 375.68 L118.80 376.25 L119.20 376.81 L119.60 377.36 L120.00 377.91 L120.40 378.44 L120.80 378.97 L121.20 379.50 L121.60 380.01 L122.00 380.52 L122.40 381.02 L122.80 381.52 L123.20 382.01 L123.60 382.49 L124.00 382.96 L124.40 383.43 L124.80 383.89 L125.20 384.35 L125.60 384.80 L126.00 385.24 L126.40 385.68 L126.80 386.11 L127.20 386.54 L127.60 386.96 L128.00 387.38 L128.40 387.79 L128.80 388.20 L129.20 388.60 L129.60 388.99 L130.00 389.38 L130.40 389.77 L130.80 390.15 L131.20 390.53 L131.60 390.90 L132.00 391.27 L132.40 391.64 L132.80 392.00 L133.20 392.35 L133.60 392.70 L134.00 393.05 L134.40 393.40 L134.80 393.74 L135.20 394.08 L135.60 394.41 L136.00 394.74 L136.40 395.07 L136.80 395.39 L137.20 395.71 L137.60 396.02 L138.00 396.34 L138.40 396.65 L138.80 396.96 L139.20 397.26 L139.60 397.56 L140.00 397.86 L142.00 399.31 L144.00 400.69 L146.00 402.01 L148.00 403.28 L150.00 404.50 L152.00 405.67 L154.00 406.79 L156.00 407.88 L158.00 408.93 L160.00 409.94 L162.00 410.92 L164.00 411.87 L166.00 412.80 L168.00 413.70 L170.00 414.59 L172.00 415.44 L174.00 416.28 L176.00 417.09 L178.00 417.89 L180.00 418.66 L182.00 419.42 L184.00 420.15 L186.00 420.87 L188.00 421.56 L190.00 422.24 L192.00 422.90 L194.00 423.55 L196.00 424.18 L198.00 424.81 L200.00 425.41 L202.00 426.01 L204.00 426.59 L206.00 427.17 L208.00 427.73 L210.00 428.28 L212.00 428.82 L214.00 429.35 L216.00 429.88 L218.00 430.39 L220.00 430.90 L222.00 431.39 L224.00 431.88 L226.00 432.37 L228.00 432.84 L230.00 433.31 L232.00 433.77 L234.00 434.22 L236.00 434.66 L238.00 435.10 L240.00 435.54 L242.00 435.96 L244.00 436.38 L246.00 436.80 L248.00 437.21 L250.00 437.61 L252.00 438.01 L254.00 438.41 L256.00 438.80 L258.00 439.18 L260.00 439.56 L262.00 439.94 L264.00 440.31 L266.00 440.67 L268.00 441.04 L270.00 441.39 L272.00 441.75 L274.00 442.10 L276.00 442.44 L278.00 442.79 L280.00 443.13 L282.00 443.46 L284.00 443.79 L286.00 444.12 L288.00 444.45 L290.00 444.77 L292.00 445.09 L294.00 445.40 L296.00 445.72 L298.00 446.03 L300.00 446.33 L302.00 446.64 L304.00 446.94 L306.00 447.24 L308.00 447.54 L310.00 447.83 L312.00 448.12 L314.00 448.41 L316.00 448.70 L318.00 448.98 L320.00 449.26 L322.00 449.54 L324.00 449.82 L326.00 450.09 L328.00 450.37 L330.00 450.64 L332.00 450.91 L334.00 451.17 L336.00 451.44 L338.00 451.70 L340.00 451.96 L342.00 452.22 L344.00 452.48 L346.00 452.73 L348.00 452.98 L350.00 453.24 L352.00 453.48 L354.00 453.73 L356.00 453.98 L358.00 454.22 L360.00 454.46 L362.00 454.70 L364.00 454.94 L366.00 455.18 L368.00 455.42 L370.00 455.65 L372.00 455.88 L374.00 456.11 L376.00 456.34 L378.00 456.57 L380.00 456.79 L382.00 457.02 L384.00 457.24 L386.00 457.46 L388.00 457.68 L390.00 457.90 L392.00 458.12 L394.00 458.33 L396.00 458.55 L398.00 458.76 L400.00 458.97 L402.00 459.18 L404.00 459.39 L406.00 459.60 L408.00 459.80 L410.00 460.01 L412.00 460.21 L414.00 460.41 L416.00 460.61 L418.00 460.81 L420.00 461.01 L422.00 461.20 L424.00 461.40 L426.00 461.59 L428.00 461.78 L430.00 461.97 L432.00 462.16 L434.00 462.35 L436.00 462.54 L438.00 462.72 L440.00 462.91 L442.00 463.09 L444.00 463.27 L446.00 463.45 L448.00 463.63 L450.00 463.81 L452.00 463.99 L454.00 464.16 L456.00 464.34 L458.00 464.51 L460.00 464.68 L462.00 464.85 L464.00 465.02 L466.00 465.18 L468.00 465.35 L470.00 465.51 L472.00 465.68 L474.00 465.84 L476.00 466.00 L478.00 466.16 L480.00 466.31 L482.00 466.47 L484.00 466.62 L486.00 466.78 L488.00 466.93 L490.00 467.08 L492.00 467.23 L494.00 467.38 L496.00 467.53 L498.00 467.68 L500.00 467.83 L502.00 467.98 L504.00 468.12 L506.00 468.27 L508.00 468.41 L510.00 468.56 L512.00 468.70 L514.00 468.84 L516.00 468.98 L518.00 469.12 L520.00 469.26 L522.00 469.40 L524.00 469.54 L526.00 469.68 L528.00 469.82 L530.00 469.96 L532.00 470.10 L534.00 470.24 L536.00 470.37 L538.00 470.51 L540.00 470.65 L542.00 470.78 L544.00 470.92 L546.00 471.06 L548.00 471.19 L550.00 471.33 L552.00 471.47 L554.00 471.60 L556.00 471.74 L558.00 471.87 L560.00 472.01 L562.00 472.15 L564.00 472.28 L566.00 472.42 L568.00 472.55 L570.00 472.69 L572.00 472.83 L574.00 472.96 L576.00 473.10 L578.00 473.23 L580.00 473.36 L582.00 473.50 L584.00 473.63 L586.00 473.76 L588.00 473.89 L590.00 474.02 L592.00 474.15 L594.00 474.28 L596.00 474.41 L598.00 474.54 L600.00 474.67 L602.00 474.80 L604.00 474.93 L606.00 475.05 L608.00 475.18 L610.00 475.31 L612.00 475.43 L614.00 475.56 L616.00 475.68 L618.00 475.81 L620.00 475.93 L622.00 476.05 L624.00 476.18 L626.00 476.30 L628.00 476.42 L630.00 476.55 L632.00 476.67 L634.00 476.79 L636.00 476.91 L638.00 477.03 L640.00 477.15 L642.00 477.27 L644.00 477.39 L646.00 477.51 L648.00 477.62 L650.00 477.74 L652.00 477.86 L654.00 477.97 L656.00 478.09 L658.00 478.20 L660.00 478.31 L662.00 478.43 L664.00 478.54 L666.00 478.65 L668.00 478.76 L670.00 478.87 L672.00 478.98 L674.00 479.09 L676.00 479.20 L678.00 479.30 L680.00 479.41 L682.00 479.52 L684.00 479.62 L686.00 479.73 L688.00 479.83 L690.00 479.94 L692.00 480.04 L694.00 480.14 L696.00 480.25 L698.00 480.35 L700.00 480.45 L702.00 480.55 L704.00 480.65 L706.00 480.75 L708.00 480.85 L710.00 480.95 L712.00 481.05 L714.00 481.14 L716.00 481.24 L718.00 481.34 L720.00 481.43 L722.00 481.53 L724.00 481.62 L726.00 481.72 L728.00 481.81 L730.00 481.91 L732.00 482.00 L734.00 482.09 L736.00 482.18 L738.00 482.28 L740.00 482.37 L742.00 482.46 L744.00 482.55 L746.00 482.64 L748.00 482.73 L750.00 482.82 L752.00 482.91 L754.00 482.99 L756.00 483.08 L758.00 483.17 L760.00 483.26 L762.00 483.34 L764.00 483.43 L766.00 483.52 L768.00 483.60 L770.00 483.69 L772.00 483.77 L774.00 483.86 L776.00 483.94 L778.00 484.02 L780.00 484.11 L782.00 484.19 L784.00 484.27 L786.00 484.35 L788.00 484.44 L790.00 484.52 L791.70 484.59" stroke="#ff0000" stroke-dashoffset="1.57"/>
<path d="M104.40 364.92 L104.80 364.74 L105.20 364.60 L105.60 364.53 L106.00 364.54 L106.40 364.70 L106.80 365.04 L107.20 365.50 L107.60 366.02 L108.00 366.58 L108.40 367.17 L108.80 367.79 L109.20 368.42 L109.60 369.07 L110.00 369.73 L110.40 370.39 L110.80 371.07 L111.20 371.74 L111.60 372.42 L112.00 373.10 L112.40 373.78 L112.80 374.45 L113.20 375.13 L113.60 375.79 L114.00 376.45 L114.40 377.11 L114.80 377.76 L115.20 378.40 L115.60 379.04 L116.00 379.67 L116.40 380.29 L116.80 380.90 L117.20 381.50 L117.60 382.10 L118.00 382.69 L118.40 383.27 L118.80 383.84 L119.20 384.41 L119.60 384.97 L120.00 385.51 L120.40 386.06 L120.80 386.59 L121.20 387.12 L121.60 387.64 L122.00 388.15 L122.40 388.65 L122.80 389.15 L123.20 389.64 L123.60 390.13 L124.00 390.61 L124.40 391.08 L124.80 391.55 L125.20 392.01 L125.60 392.46 L126.00 392.91 L126.40 393.35 L126.80 393.78 L127.20 394.21 L127.60 394.64 L128.00 395.06 L128.40 395.47 L128.80 395.88 L129.20 396.29 L129.60 396.69 L130.00 397.08 L130.40 397.47 L130.80 397.86 L131.20 398.24 L131.60 398.62 L132.00 398.99 L132.40 399.36 L132.80 399.72 L133.20 400.08 L133.60 400.43 L134.00 400.79 L134.40 401.13 L134.80 401.48 L135.20 401.82 L135.60 402.16 L136.00 402.49 L136.40 402.82 L136.80 403.15 L137.20 403.47 L137.60 403.79 L138.00 404.11 L138.40 404.42 L138.80 404.73 L139.20 405.04 L139.60 405.34 L140.00 405.64 L142.00 407.11 L144.00 408.51 L146.00 409.84 L148.00 411.13 L150.00 412.36 L152.00 413.54 L154.00 414.68 L156.00 415.78 L158.00 416.84 L160.00 417.86 L162.00 418.85 L164.00 419.82 L166.00 420.76 L168.00 421.67 L170.00 422.56 L172.00 423.42 L174.00 424.26 L176.00 425.08 L178.00 425.88 L180.00 426.66 L182.00 427.42 L184.00 428.15 L186.00 428.87 L188.00 429.56 L190.00 430.24 L192.00 430.90 L194.00 431.54 L196.00 432.17 L198.00 432.79 L200.00 433.39 L202.00 433.99 L204.00 434.56 L206.00 435.13 L208.00 435.69 L210.00 436.23 L212.00 436.77 L214.00 437.29 L216.00 437.81 L218.00 438.31 L220.00 438.81 L222.00 439.30 L224.00 439.78 L226.00 440.25 L228.00 440.71 L230.00 441.17 L232.00 441.62 L234.00 442.06 L236.00 442.50 L238.00 442.93 L240.00 443.35 L242.00 443.77 L244.00 444.18 L246.00 444.58 L248.00 444.98 L250.00 445.38 L252.00 445.77 L254.00 446.15 L256.00 446.53 L258.00 446.90 L260.00 447.27 L262.00 447.64 L264.00 448.00 L266.00 448.36 L268.00 448.71 L270.00 449.06 L272.00 449.41 L274.00 449.75 L276.00 450.09 L278.00 450.43 L280.00 450.76 L282.00 451.09 L284.00 451.41 L286.00 451.74 L288.00 452.06 L290.00 452.38 L292.00 452.69 L294.00 453.01 L296.00 453.32 L298.00 453.63 L300.00 453.93 L302.00 454.24 L304.00 454.54 L306.00 454.84 L308.00 455.14 L310.00 455.43 L312.00 455.72 L314.00 456.01 L316.00 456.30 L318.00 456.58 L320.00 456.87 L322.00 457.15 L324.00 457.43 L326.00 457.70 L328.00 457.98 L330.00 458.25 L332.00 458.52 L334.00 458.79 L336.00 459.05 L338.00 459.32 L340.00 459.58 L342.00 459.84 L344.00 460.10 L346.00 460.35 L348.00 460.61 L350.00 460.86 L352.00 461.11 L354.00 461.36 L356.00 461.61 L358.00 461.86 L360.00 462.10 L362.00 462.34 L364.00 462.58 L366.00 462.82 L368.00 463.06 L370.00 463.29 L372.00 463.53 L374.00 463.76 L376.00 463.99 L378.00 464.22 L380.00 464.45 L382.00 464.68 L384.00 464.90 L386.00 465.12 L388.00 465.35 L390.00 465.57 L392.00 465.78 L394.00 466.00 L396.00 466.22 L398.00 466.43 L400.00 466.65 L402.00 466.86 L404.00 467.07 L406.00 467.27 L408.00 467.48 L410.00 467.69 L412.00 467.89 L414.00 468.09 L416.00 468.30 L418.00 468.50 L420.00 468.70 L422.00 468.89 L424.00 469.09 L426.00 469.28 L428.00 469.48 L430.00 469.67 L432.00 469.86 L434.00 470.05 L436.00 470.24 L438.00 470.42 L440.00 470.61 L442.00 470.79 L444.00 470.97 L446.00 471.15 L448.00 471.33 L450.00 471.51 L452.00 471.69 L454.00 471.86 L456.00 472.04 L458.00 472.21 L460.00 472.38 L462.00 472.55 L464.00 472.72 L466.00 472.88 L468.00 473.05 L470.00 473.21 L472.00 473.38 L474.00 473.54 L476.00 473.70 L478.00 473.86 L480.00 474.01 L482.00 474.17 L484.00 474.32 L486.00 474.48 L488.00 474.63 L490.00 474.78 L492.00 474.93 L494.00 475.08 L496.00 475.23 L498.00 475.38 L500.00 475.53 L502.00 475.68 L504.00 475.82 L506.00 475.97 L508.00 476.11 L510.00 476.26 L512.00 476.40 L514.00 476.54 L516.00 476.68 L518.00 476.82 L520.00 476.96 L522.00 477.10 L524.00 477.24 L526.00 477.38 L528.00 477.52 L530.00 477.66 L532.00 477.80 L534.00 477.94 L536.00 478.07 L538.00 478.21 L540.00 478.35 L542.00 478.48 L544.00 478.62 L546.00 478.76 L548.00 478.89 L550.00 479.03 L552.00 479.17 L554.00 479.30 L556.00 479.44 L558.00 479.57 L560.00 479.71 L562.00 479.85 L564.00 479.98 L566.00 480.12 L568.00 480.25 L570.00 480.39 L572.00 480.53 L574.00 480.66 L576.00 480.79 L578.00 480.93 L580.00 481.06 L582.00 481.19 L584.00 481.33 L586.00 481.46 L588.00 481.59 L590.00 481.72 L592.00 481.85 L594.00 481.98 L596.00 482.11 L598.00 482.24 L600.00 482.36 L602.00 482.49 L604.00 482.62 L606.00 482.75 L608.00 482.87 L610.00 483.00 L612.00 483.12 L614.00 483.25 L616.00 483.37 L618.00 483.49 L620.00 483.62 L622.00 483.74 L624.00 483.86 L626.00 483.98 L628.00 484.10 L630.00 484.23 L632.00 484.35 L634.00 484.47 L636.00 484.59 L638.00 484.70 L640.00 484.82 L642.00 484.94 L644.00 485.06 L646.00 485.18 L648.00 485.29 L650.00 485.41 L652.00 485.52 L654.00 485.64 L656.00 485.75 L658.00 485.86 L660.00 485.97 L662.00 486.08 L664.00 486.19 L666.00 486.30 L668.00 486.41 L670.00 486.52 L672.00 486.63 L674.00 486.74 L676.00 486.84 L678.00 486.95 L680.00 487.05 L682.00 487.16 L684.00 487.26 L686.00 487.36 L688.00 487.47 L690.00 487.57 L692.00 487.67 L694.00 487.77 L696.00 487.87 L698.00 487.97 L700.00 488.07 L702.00 488.17 L704.00 488.27 L706.00 488.36 L708.00 488.46 L710.00 488.56 L712.00 488.65 L714.00 488.75 L716.00 488.84 L718.00 488.94 L720.00 489.03 L722.00 489.12 L724.00 489.22 L726.00 489.31 L728.00 489.40 L730.00 489.49 L732.00 489.58 L734.00 489.67 L736.00 489.76 L738.00 489.85 L740.00 489.94 L742.00 490.03 L744.00 490.12 L746.00 490.20 L748.00 490.29 L750.00 490.38 L752.00 490.46 L754.00 490.55 L756.00 490.63 L758.00 490.72 L760.00 490.80 L762.00 490.89 L764.00 490.97 L766.00 491.05 L768.00 491.14 L770.00 491.22 L772.00 491.30 L774.00 491.38 L776.00 491.46 L778.00 491.54 L780.00 491.62 L782.00 491.70 L784.00 491.78 L786.00 491.86 L788.00 491.94 L790.00 492.02 L791.70 492.09" stroke="#0000ff" stroke-dashoffset="1.51"/>
<path d="M104.40 366.79 L104.80 366.68 L105.20 366.62 L105.60 366.62 L106.00 366.71 L106.40 366.95 L106.80 367.37 L107.20 367.91 L107.60 368.52 L108.00 369.16 L108.40 369.83 L108.80 370.52 L109.20 371.23 L109.60 371.96 L110.00 372.69 L110.40 373.44 L110.80 374.19 L111.20 374.94 L111.60 375.69 L112.00 376.44 L112.40 377.18 L112.80 377.92 L113.20 378.66 L113.60 379.38 L114.00 380.10 L114.40 380.81 L114.80 381.51 L115.20 382.20 L115.60 382.87 L116.00 383.54 L116.40 384.19 L116.80 384.83 L117.20 385.46 L117.60 386.08 L118.00 386.68 L118.40 387.27 L118.80 387.84 L119.20 388.41 L119.60 388.96 L120.00 389.51 L120.40 390.04 L120.80 390.57 L121.20 391.10 L121.60 391.61 L122.00 392.12 L122.40 392.62 L122.80 393.11 L123.20 393.60 L123.60 394.08 L124.00 394.56 L124.40 395.02 L124.80 395.48 L125.20 395.94 L125.60 396.39 L126.00 396.83 L126.40 397.27 L126.80 397.70 L127.20 398.12 L127.60 398.54 L128.00 398.96 L128.40 399.37 L128.80 399.77 L129.20 400.17 L129.60 400.56 L130.00 400.95 L130.40 401.34 L130.80 401.72 L131.20 402.09 L131.60 402.46 L132.00 402.83 L132.40 403.19 L132.80 403.55 L133.20 403.90 L133.60 404.25 L134.00 404.59 L134.40 404.94 L134.80 405.27 L135.20 405.61 L135.60 405.94 L136.00 406.27 L136.40 406.59 L136.80 406.91 L137.20 407.23 L137.60 407.54 L138.00 407.85 L138.40 408.16 L138.80 408.46 L139.20 408.76 L139.60 409.06 L140.00 409.35 L142.00 410.78 L144.00 412.15 L146.00 413.45 L148.00 414.70 L150.00 415.89 L152.00 417.04 L154.00 418.15 L156.00 419.21 L158.00 420.24 L160.00 421.23 L162.00 422.19 L164.00 423.12 L166.00 424.03 L168.00 424.92 L170.00 425.78 L172.00 426.62 L174.00 427.44 L176.00 428.24 L178.00 429.02 L180.00 429.78 L182.00 430.53 L184.00 431.26 L186.00 431.96 L188.00 432.66 L190.00 433.33 L192.00 433.98 L194.00 434.63 L196.00 435.25 L198.00 435.87 L200.00 436.47 L202.00 437.06 L204.00 437.64 L206.00 438.21 L208.00 438.77 L210.00 439.31 L212.00 439.85 L214.00 440.38 L216.00 440.90 L218.00 441.41 L220.00 441.91 L222.00 442.40 L224.00 442.89 L226.00 443.37 L228.00 443.84 L230.00 444.30 L232.00 444.75 L234.00 445.20 L236.00 445.65 L238.00 446.08 L240.00 446.51 L242.00 446.94 L244.00 447.35 L246.00 447.77 L248.00 448.17 L250.00 448.57 L252.00 448.97 L254.00 449.36 L256.00 449.75 L258.00 450.13 L260.00 450.51 L262.00 450.88 L264.00 451.25 L266.00 451.61 L268.00 451.97 L270.00 452.33 L272.00 452.68 L274.00 453.03 L276.00 453.37 L278.00 453.71 L280.00 454.05 L282.00 454.38 L284.00 454.71 L286.00 455.04 L288.00 455.36 L290.00 455.68 L292.00 456.00 L294.00 456.31 L296.00 456.62 L298.00 456.93 L300.00 457.23 L302.00 457.54 L304.00 457.84 L306.00 458.13 L308.00 458.43 L310.00 458.72 L312.00 459.01 L314.00 459.30 L316.00 459.58 L318.00 459.86 L320.00 460.14 L322.00 460.42 L324.00 460.70 L326.00 460.97 L328.00 461.24 L330.00 461.51 L332.00 461.78 L334.00 462.04 L336.00 462.30 L338.00 462.56 L340.00 462.82 L342.00 463.08 L344.00 463.33 L346.00 463.59 L348.00 463.84 L350.00 464.09 L352.00 464.34 L354.00 464.58 L356.00 464.82 L358.00 465.07 L360.00 465.31 L362.00 465.55 L364.00 465.78 L366.00 466.02 L368.00 466.25 L370.00 466.49 L372.00 466.72 L374.00 466.94 L376.00 467.17 L378.00 467.40 L380.00 467.62 L382.00 467.85 L384.00 468.07 L386.00 468.29 L388.00 468.51 L390.00 468.72 L392.00 468.94 L394.00 469.15 L396.00 469.36 L398.00 469.58 L400.00 469.79 L402.00 469.99 L404.00 470.20 L406.00 470.41 L408.00 470.61 L410.00 470.82 L412.00 471.02 L414.00 471.22 L416.00 471.42 L418.00 471.61 L420.00 471.81 L422.00 472.01 L424.00 472.20 L426.00 472.39 L428.00 472.59 L430.00 472.78 L432.00 472.96 L434.00 473.15 L436.00 473.34 L438.00 473.52 L440.00 473.71 L442.00 473.89 L444.00 474.07 L446.00 474.25 L448.00 474.43 L450.00 474.61 L452.00 474.79 L454.00 474.97 L456.00 475.14 L458.00 475.31 L460.00 475.49 L462.00 475.66 L464.00 475.83 L466.00 475.99 L468.00 476.16 L470.00 476.33 L472.00 476.49 L474.00 476.66 L476.00 476.82 L478.00 476.98 L480.00 477.15 L482.00 477.31 L484.00 477.47 L486.00 477.62 L488.00 477.78 L490.00 477.94 L492.00 478.09 L494.00 478.25 L496.00 478.40 L498.00 478.56 L500.00 478.71 L502.00 478.86 L504.00 479.01 L506.00 479.16 L508.00 479.31 L510.00 479.46 L512.00 479.61 L514.00 479.76 L516.00 479.90 L518.00 480.05 L520.00 480.19 L522.00 480.34 L524.00 480.48 L526.00 480.63 L528.00 480.77 L530.00 480.91 L532.00 481.06 L534.00 481.20 L536.00 481.34 L538.00 481.48 L540.00 481.62 L542.00 481.76 L544.00 481.90 L546.00 482.04 L548.00 482.18 L550.00 482.32 L552.00 482.46 L554.00 482.59 L556.00 482.73 L558.00 482.87 L560.00 483.01 L562.00 483.14 L564.00 483.28 L566.00 483.42 L568.00 483.55 L570.00 483.69 L572.00 483.83 L574.00 483.96 L576.00 484.09 L578.00 484.23 L580.00 484.36 L582.00 484.49 L584.00 484.62 L586.00 484.75 L588.00 484.89 L590.00 485.01 L592.00 485.14 L594.00 485.27 L596.00 485.40 L598.00 485.53 L600.00 485.65 L602.00 485.78 L604.00 485.91 L606.00 486.03 L608.00 486.16 L610.00 486.28 L612.00 486.40 L614.00 486.53 L616.00 486.65 L618.00 486.77 L620.00 486.89 L622.00 487.01 L624.00 487.13 L626.00 487.25 L628.00 487.37 L630.00 487.49 L632.00 487.61 L634.00 487.73 L636.00 487.84 L638.00 487.96 L640.00 488.08 L642.00 488.19 L644.00 488.31 L646.00 488.42 L648.00 488.53 L650.00 488.65 L652.00 488.76 L654.00 488.87 L656.00 488.98 L658.00 489.09 L660.00 489.19 L662.00 489.30 L664.00 489.41 L666.00 489.52 L668.00 489.62 L670.00 489.72 L672.00 489.83 L674.00 489.93 L676.00 490.03 L678.00 490.14 L680.00 490.24 L682.00 490.34 L684.00 490.44 L686.00 490.53 L688.00 490.63 L690.00 490.73 L692.00 490.83 L694.00 490.92 L696.00 491.02 L698.00 491.11 L700.00 491.21 L702.00 491.30 L704.00 491.39 L706.00 491.48 L708.00 491.58 L710.00 491.67 L712.00 491.76 L714.00 491.85 L716.00 491.93 L718.00 492.02 L720.00 492.11 L722.00 492.20 L724.00 492.28 L726.00 492.37 L728.00 492.46 L730.00 492.54 L732.00 492.62 L734.00 492.71 L736.00 492.79 L738.00 492.87 L740.00 492.95 L742.00 493.04 L744.00 493.12 L746.00 493.20 L748.00 493.28 L750.00 493.35 L752.00 493.43 L754.00 493.51 L756.00 493.59 L758.00 493.67 L760.00 493.74 L762.00 493.82 L764.00 493.89 L766.00 493.97 L768.00 494.04 L770.00 494.12 L772.00 494.19 L774.00 494.26 L776.00 494.33 L778.00 494.41 L780.00 494.48 L782.00 494.55 L784.00 494.62 L786.00 494.69 L788.00 494.76 L790.00 494.83 L791.70 494.89" stroke="#008b00" stroke-dashoffset="1.00"/>
<path d="M104.40 367.91 L104.80 367.82 L105.20 367.78 L105.60 367.80 L106.00 367.91 L106.40 368.17 L106.80 368.62 L107.20 369.18 L107.60 369.80 L108.00 370.46 L108.40 371.16 L108.80 371.87 L109.20 372.60 L109.60 373.35 L110.00 374.11 L110.40 374.87 L110.80 375.64 L111.20 376.41 L111.60 377.18 L112.00 377.95 L112.40 378.71 L112.80 379.47 L113.20 380.22 L113.60 380.96 L114.00 381.70 L114.40 382.42 L114.80 383.13 L115.20 383.83 L115.60 384.52 L116.00 385.20 L116.40 385.86 L116.80 386.51 L117.20 387.15 L117.60 387.77 L118.00 388.38 L118.40 388.97 L118.80 389.54 L119.20 390.11 L119.60 390.66 L120.00 391.21 L120.40 391.74 L120.80 392.27 L121.20 392.80 L121.60 393.31 L122.00 393.82 L122.40 394.32 L122.80 394.81 L123.20 395.30 L123.60 395.78 L124.00 396.25 L124.40 396.72 L124.80 397.18 L125.20 397.64 L125.60 398.09 L126.00 398.53 L126.40 398.96 L126.80 399.39 L127.20 399.82 L127.60 400.24 L128.00 400.65 L128.40 401.06 L128.80 401.47 L129.20 401.86 L129.60 402.26 L130.00 402.65 L130.40 403.03 L130.80 403.41 L131.20 403.78 L131.60 404.15 L132.00 404.52 L132.40 404.88 L132.80 405.24 L133.20 405.59 L133.60 405.94 L134.00 406.29 L134.40 406.63 L134.80 406.96 L135.20 407.30 L135.60 407.63 L136.00 407.95 L136.40 408.28 L136.80 408.60 L137.20 408.91 L137.60 409.22 L138.00 409.53 L138.40 409.84 L138.80 410.14 L139.20 410.44 L139.60 410.74 L140.00 411.03 L142.00 412.46 L144.00 413.82 L146.00 415.12 L148.00 416.37 L150.00 417.56 L152.00 418.70 L154.00 419.80 L156.00 420.86 L158.00 421.88 L160.00 422.87 L162.00 423.83 L164.00 424.76 L166.00 425.66 L168.00 426.54 L170.00 427.40 L172.00 428.24 L174.00 429.06 L176.00 429.85 L178.00 430.63 L180.00 431.39 L182.00 432.13 L184.00 432.86 L186.00 433.56 L188.00 434.25 L190.00 434.92 L192.00 435.58 L194.00 436.21 L196.00 436.84 L198.00 437.45 L200.00 438.05 L202.00 438.64 L204.00 439.22 L206.00 439.78 L208.00 440.34 L210.00 440.88 L212.00 441.42 L214.00 441.94 L216.00 442.46 L218.00 442.97 L220.00 443.47 L222.00 443.96 L224.00 444.44 L226.00 444.92 L228.00 445.38 L230.00 445.84 L232.00 446.30 L234.00 446.74 L236.00 447.19 L238.00 447.62 L240.00 448.05 L242.00 448.47 L244.00 448.89 L246.00 449.30 L248.00 449.70 L250.00 450.10 L252.00 450.50 L254.00 450.89 L256.00 451.27 L258.00 451.65 L260.00 452.03 L262.00 452.40 L264.00 452.76 L266.00 453.13 L268.00 453.48 L270.00 453.84 L272.00 454.19 L274.00 454.54 L276.00 454.88 L278.00 455.22 L280.00 455.55 L282.00 455.89 L284.00 456.21 L286.00 456.54 L288.00 456.86 L290.00 457.18 L292.00 457.50 L294.00 457.81 L296.00 458.12 L298.00 458.43 L300.00 458.73 L302.00 459.04 L304.00 459.34 L306.00 459.63 L308.00 459.93 L310.00 460.22 L312.00 460.51 L314.00 460.79 L316.00 461.08 L318.00 461.36 L320.00 461.64 L322.00 461.92 L324.00 462.19 L326.00 462.47 L328.00 462.74 L330.00 463.01 L332.00 463.27 L334.00 463.54 L336.00 463.80 L338.00 464.06 L340.00 464.32 L342.00 464.58 L344.00 464.83 L346.00 465.08 L348.00 465.34 L350.00 465.59 L352.00 465.83 L354.00 466.08 L356.00 466.32 L358.00 466.56 L360.00 466.81 L362.00 467.04 L364.00 467.28 L366.00 467.52 L368.00 467.75 L370.00 467.98 L372.00 468.21 L374.00 468.44 L376.00 468.67 L378.00 468.90 L380.00 469.12 L382.00 469.34 L384.00 469.57 L386.00 469.79 L388.00 470.00 L390.00 470.22 L392.00 470.44 L394.00 470.65 L396.00 470.86 L398.00 471.07 L400.00 471.28 L402.00 471.49 L404.00 471.70 L406.00 471.91 L408.00 472.11 L410.00 472.31 L412.00 472.52 L414.00 472.72 L416.00 472.92 L418.00 473.11 L420.00 473.31 L422.00 473.51 L424.00 473.70 L426.00 473.89 L428.00 474.08 L430.00 474.28 L432.00 474.46 L434.00 474.65 L436.00 474.84 L438.00 475.02 L440.00 475.21 L442.00 475.39 L444.00 475.57 L446.00 475.75 L448.00 475.93 L450.00 476.11 L452.00 476.29 L454.00 476.47 L456.00 476.64 L458.00 476.81 L460.00 476.99 L462.00 477.16 L464.00 477.33 L466.00 477.50 L468.00 477.67 L470.00 477.84 L472.00 478.00 L474.00 478.17 L476.00 478.33 L478.00 478.50 L480.00 478.66 L482.00 478.82 L484.00 478.99 L486.00 479.15 L488.00 479.31 L490.00 479.46 L492.00 479.62 L494.00 479.78 L496.00 479.94 L498.00 480.09 L500.00 480.25 L502.00 480.40 L504.00 480.56 L506.00 480.71 L508.00 480.86 L510.00 481.01 L512.00 481.16 L514.00 481.31 L516.00 481.46 L518.00 481.61 L520.00 481.76 L522.00 481.91 L524.00 482.05 L526.00 482.20 L528.00 482.34 L530.00 482.49 L532.00 482.63 L534.00 482.78 L536.00 482.92 L538.00 483.07 L540.00 483.21 L542.00 483.35 L544.00 483.49 L546.00 483.63 L548.00 483.77 L550.00 483.91 L552.00 484.05 L554.00 484.19 L556.00 484.33 L558.00 484.47 L560.00 484.61 L562.00 484.74 L564.00 484.88 L566.00 485.02 L568.00 485.15 L570.00 485.29 L572.00 485.43 L574.00 485.56 L576.00 485.70 L578.00 485.83 L580.00 485.96 L582.00 486.09 L584.00 486.23 L586.00 486.36 L588.00 486.49 L590.00 486.62 L592.00 486.75 L594.00 486.88 L596.00 487.01 L598.00 487.14 L600.00 487.27 L602.00 487.39 L604.00 487.52 L606.00 487.65 L608.00 487.77 L610.00 487.90 L612.00 488.02 L614.00 488.15 L616.00 488.27 L618.00 488.40 L620.00 488.52 L622.00 488.64 L624.00 488.76 L626.00 488.89 L628.00 489.01 L630.00 489.13 L632.00 489.25 L634.00 489.37 L636.00 489.49 L638.00 489.61 L640.00 489.72 L642.00 489.84 L644.00 489.96 L646.00 490.08 L648.00 490.19 L650.00 490.31 L652.00 490.42 L654.00 490.53 L656.00 490.65 L658.00 490.76 L660.00 490.87 L662.00 490.98 L664.00 491.09 L666.00 491.20 L668.00 491.31 L670.00 491.41 L672.00 491.52 L674.00 491.63 L676.00 491.73 L678.00 491.84 L680.00 491.94 L682.00 492.04 L684.00 492.15 L686.00 492.25 L688.00 492.35 L690.00 492.45 L692.00 492.55 L694.00 492.65 L696.00 492.75 L698.00 492.85 L700.00 492.94 L702.00 493.04 L704.00 493.14 L706.00 493.23 L708.00 493.33 L710.00 493.42 L712.00 493.52 L714.00 493.61 L716.00 493.70 L718.00 493.79 L720.00 493.88 L722.00 493.97 L724.00 494.06 L726.00 494.15 L728.00 494.24 L730.00 494.33 L732.00 494.42 L734.00 494.51 L736.00 494.59 L738.00 494.68 L740.00 494.76 L742.00 494.85 L744.00 494.93 L746.00 495.02 L748.00 495.10 L750.00 495.18 L752.00 495.26 L754.00 495.35 L756.00 495.43 L758.00 495.51 L760.00 495.59 L762.00 495.67 L764.00 495.75 L766.00 495.82 L768.00 495.90 L770.00 495.98 L772.00 496.06 L774.00 496.13 L776.00 496.21 L778.00 496.28 L780.00 496.36 L782.00 496.43 L784.00 496.51 L786.00 496.58 L788.00 496.65 L790.00 496.73 L791.70 496.79" stroke="#9400d3" stroke-dashoffset="0.65"/>
<path d="M104.40 367.61 L104.80 367.52 L105.20 367.48 L105.60 367.50 L106.00 367.61 L106.40 367.87 L106.80 368.32 L107.20 368.88 L107.60 369.50 L108.00 370.16 L108.40 370.86 L108.80 371.57 L109.20 372.30 L109.60 373.05 L110.00 373.81 L110.40 374.57 L110.80 375.34 L111.20 376.11 L111.60 376.88 L112.00 377.65 L112.40 378.41 L112.80 379.17 L113.20 379.92 L113.60 380.66 L114.00 381.40 L114.40 382.12 L114.80 382.83 L115.20 383.53 L115.60 384.22 L116.00 384.90 L116.40 385.56 L116.80 386.21 L117.20 386.85 L117.60 387.47 L118.00 388.08 L118.40 388.67 L118.80 389.24 L119.20 389.81 L119.60 390.36 L120.00 390.91 L120.40 391.44 L120.80 391.97 L121.20 392.50 L121.60 393.01 L122.00 393.52 L122.40 394.02 L122.80 394.51 L123.20 395.00 L123.60 395.48 L124.00 395.95 L124.40 396.42 L124.80 396.88 L125.20 397.34 L125.60 397.79 L126.00 398.23 L126.40 398.66 L126.80 399.09 L127.20 399.52 L127.60 399.94 L128.00 400.35 L128.40 400.76 L128.80 401.17 L129.20 401.56 L129.60 401.96 L130.00 402.35 L130.40 402.73 L130.80 403.11 L131.20 403.48 L131.60 403.85 L132.00 404.22 L132.40 404.58 L132.80 404.94 L133.20 405.29 L133.60 405.64 L134.00 405.99 L134.40 406.33 L134.80 406.66 L135.20 407.00 L135.60 407.33 L136.00 407.65 L136.40 407.98 L136.80 408.30 L137.20 408.61 L137.60 408.92 L138.00 409.23 L138.40 409.54 L138.80 409.84 L139.20 410.14 L139.60 410.44 L140.00 410.73 L142.00 412.16 L144.00 413.52 L146.00 414.82 L148.00 416.07 L150.00 417.26 L152.00 418.40 L154.00 419.50 L156.00 420.56 L158.00 421.58 L160.00 422.57 L162.00 423.53 L164.00 424.46 L166.00 425.36 L168.00 426.24 L170.00 427.10 L172.00 427.94 L174.00 428.76 L176.00 429.55 L178.00 430.33 L180.00 431.09 L182.00 431.83 L184.00 432.56 L186.00 433.26 L188.00 433.95 L190.00 434.62 L192.00 435.28 L194.00 435.91 L196.00 436.54 L198.00 437.15 L200.00 437.75 L202.00 438.34 L204.00 438.92 L206.00 439.48 L208.00 440.04 L210.00 440.58 L212.00 441.12 L214.00 441.64 L216.00 442.16 L218.00 442.67 L220.00 443.17 L222.00 443.66 L224.00 444.14 L226.00 444.62 L228.00 445.08 L230.00 445.54 L232.00 446.00 L234.00 446.44 L236.00 446.89 L238.00 447.32 L240.00 447.75 L242.00 448.17 L244.00 448.59 L246.00 449.00 L248.00 449.40 L250.00 449.80 L252.00 450.20 L254.00 450.59 L256.00 450.97 L258.00 451.35 L260.00 451.73 L262.00 452.10 L264.00 452.46 L266.00 452.83 L268.00 453.18 L270.00 453.54 L272.00 453.89 L274.00 454.24 L276.00 454.58 L278.00 454.92 L280.00 455.25 L282.00 455.59 L284.00 455.91 L286.00 456.24 L288.00 456.56 L290.00 456.88 L292.00 457.20 L294.00 457.51 L296.00 457.82 L298.00 458.13 L300.00 458.43 L302.00 458.74 L304.00 459.04 L306.00 459.33 L308.00 459.63 L310.00 459.92 L312.00 460.21 L314.00 460.49 L316.00 460.78 L318.00 461.06 L320.00 461.34 L322.00 461.62 L324.00 461.89 L326.00 462.17 L328.00 462.44 L330.00 462.71 L332.00 462.97 L334.00 463.24 L336.00 463.50 L338.00 463.76 L340.00 464.02 L342.00 464.28 L344.00 464.53 L346.00 464.78 L348.00 465.04 L350.00 465.29 L352.00 465.53 L354.00 465.78 L356.00 466.02 L358.00 466.26 L360.00 466.51 L362.00 466.74 L364.00 466.98 L366.00 467.22 L368.00 467.45 L370.00 467.68 L372.00 467.91 L374.00 468.14 L376.00 468.37 L378.00 468.60 L380.00 468.82 L382.00 469.04 L384.00 469.27 L386.00 469.49 L388.00 469.70 L390.00 469.92 L392.00 470.14 L394.00 470.35 L396.00 470.56 L398.00 470.77 L400.00 470.98 L402.00 471.19 L404.00 471.40 L406.00 471.61 L408.00 471.81 L410.00 472.01 L412.00 472.22 L414.00 472.42 L416.00 472.62 L418.00 472.81 L420.00 473.01 L422.00 473.21 L424.00 473.40 L426.00 473.59 L428.00 473.78 L430.00 473.98 L432.00 474.16 L434.00 474.35 L436.00 474.54 L438.00 474.72 L440.00 474.91 L442.00 475.09 L444.00 475.27 L446.00 475.45 L448.00 475.63 L450.00 475.81 L452.00 475.99 L454.00 476.17 L456.00 476.34 L458.00 476.51 L460.00 476.69 L462.00 476.86 L464.00 477.03 L466.00 477.20 L468.00 477.37 L470.00 477.54 L472.00 477.70 L474.00 477.87 L476.00 478.03 L478.00 478.20 L480.00 478.36 L482.00 478.52 L484.00 478.69 L486.00 478.85 L488.00 479.01 L490.00 479.16 L492.00 479.32 L494.00 479.48 L496.00 479.64 L498.00 479.79 L500.00 479.95 L502.00 480.10 L504.00 480.26 L506.00 480.41 L508.00 480.56 L510.00 480.71 L512.00 480.86 L514.00 481.01 L516.00 481.16 L518.00 481.31 L520.00 481.46 L522.00 481.61 L524.00 481.75 L526.00 481.90 L528.00 482.04 L530.00 482.19 L532.00 482.33 L534.00 482.48 L536.00 482.62 L538.00 482.77 L540.00 482.91 L542.00 483.05 L544.00 483.19 L546.00 483.33 L548.00 483.47 L550.00 483.61 L552.00 483.75 L554.00 483.89 L556.00 484.03 L558.00 484.17 L560.00 484.31 L562.00 484.44 L564.00 484.58 L566.00 484.72 L568.00 484.85 L570.00 484.99 L572.00 485.13 L574.00 485.26 L576.00 485.39 L578.00 485.53 L580.00 485.66 L582.00 485.79 L584.00 485.93 L586.00 486.06 L588.00 486.19 L590.00 486.32 L592.00 486.45 L594.00 486.58 L596.00 486.71 L598.00 486.84 L600.00 486.96 L602.00 487.09 L604.00 487.22 L606.00 487.34 L608.00 487.47 L610.00 487.59 L612.00 487.72 L614.00 487.84 L616.00 487.97 L618.00 488.09 L620.00 488.21 L622.00 488.33 L624.00 488.46 L626.00 488.58 L628.00 488.70 L630.00 488.82 L632.00 488.94 L634.00 489.06 L636.00 489.18 L638.00 489.29 L640.00 489.41 L642.00 489.53 L644.00 489.65 L646.00 489.76 L648.00 489.88 L650.00 489.99 L652.00 490.10 L654.00 490.22 L656.00 490.33 L658.00 490.44 L660.00 490.55 L662.00 490.66 L664.00 490.77 L666.00 490.88 L668.00 490.98 L670.00 491.09 L672.00 491.19 L674.00 491.30 L676.00 491.40 L678.00 491.51 L680.00 491.61 L682.00 491.71 L684.00 491.82 L686.00 491.92 L688.00 492.02 L690.00 492.12 L692.00 492.22 L694.00 492.31 L696.00 492.41 L698.00 492.51 L700.00 492.60 L702.00 492.70 L704.00 492.80 L706.00 492.89 L708.00 492.98 L710.00 493.08 L712.00 493.17 L714.00 493.26 L716.00 493.35 L718.00 493.44 L720.00 493.53 L722.00 493.62 L724.00 493.71 L726.00 493.80 L728.00 493.89 L730.00 493.97 L732.00 494.06 L734.00 494.15 L736.00 494.23 L738.00 494.32 L740.00 494.40 L742.00 494.48 L744.00 494.57 L746.00 494.65 L748.00 494.73 L750.00 494.81 L752.00 494.89 L754.00 494.97 L756.00 495.05 L758.00 495.13 L760.00 495.21 L762.00 495.29 L764.00 495.37 L766.00 495.44 L768.00 495.52 L770.00 495.59 L772.00 495.67 L774.00 495.75 L776.00 495.82 L778.00 495.89 L780.00 495.97 L782.00 496.04 L784.00 496.11 L786.00 496.18 L788.00 496.26 L790.00 496.33 L791.70 496.39" stroke="#40e0d0" stroke-dashoffset="0.65"/>
</g>
<g fill="none" stroke="#000" stroke-width="2.35" stroke-linejoin="miter">
<rect x="104.35" y="18.30" width="703.55" height="496.50"/>
<path d="M221.61 514.80 v-7.00 M221.61 18.30 v7.00 M338.87 514.80 v-14.00 M338.87 18.30 v14.00 M456.12 514.80 v-7.00 M456.12 18.30 v7.00 M573.38 514.80 v-14.00 M573.38 18.30 v14.00 M690.64 514.80 v-7.00 M690.64 18.30 v7.00 M104.35 89.23 h14.00 M807.90 89.23 h-14.00 M104.35 160.16 h14.00 M807.90 160.16 h-14.00 M104.35 231.09 h14.00 M807.90 231.09 h-14.00 M104.35 302.01 h14.00 M807.90 302.01 h-14.00 M104.35 372.94 h14.00 M807.90 372.94 h-14.00 M104.35 443.87 h14.00 M807.90 443.87 h-14.00"/>
</g>
<g class="t">
<rect x="529.5" y="195.7" width="201.2" height="213.3" fill="#fff" stroke="#000" stroke-width="1.3"/>
<path d="M537.3 219.65 H566" stroke="#ff0000" stroke-width="2.30" fill="none"/>
<text x="580.60" y="223.50" font-size="29.50">T</text>
<text transform="translate(598.62 236.90) scale(1 1.0400)" font-size="20.86">S</text>
<rect x="621.88" y="213.53" width="14.93" height="2.01"/>
<rect x="621.88" y="219.05" width="14.93" height="2.01"/>
<text transform="translate(646.15 223.50) scale(1 1.0300)" font-size="29.50">250</text>
<text x="704.17" y="223.50" font-size="29.50">K</text>
<path d="M537.3 260.90 H566" stroke="#0000ff" stroke-width="2.30" fill="none"/>
<text x="580.60" y="264.75" font-size="29.50">T</text>
<text transform="translate(598.62 278.15) scale(1 1.0400)" font-size="20.86">S</text>
<rect x="621.88" y="254.78" width="14.93" height="2.01"/>
<rect x="621.88" y="260.30" width="14.93" height="2.01"/>
<text transform="translate(646.15 264.75) scale(1 1.0300)" font-size="29.50">300</text>
<text x="704.17" y="264.75" font-size="29.50">K</text>
<path d="M537.3 302.15 H566" stroke="#008b00" stroke-width="2.30" fill="none"/>
<text x="580.60" y="306.00" font-size="29.50">T</text>
<text transform="translate(598.62 319.40) scale(1 1.0400)" font-size="20.86">S</text>
<rect x="621.88" y="296.03" width="14.93" height="2.01"/>
<rect x="621.88" y="301.55" width="14.93" height="2.01"/>
<text transform="translate(646.15 306.00) scale(1 1.0300)" font-size="29.50">350</text>
<text x="704.17" y="306.00" font-size="29.50">K</text>
<path d="M537.3 343.40 H566" stroke="#9400d3" stroke-width="2.30" fill="none"/>
<text x="580.60" y="347.25" font-size="29.50">T</text>
<text transform="translate(598.62 360.65) scale(1 1.0400)" font-size="20.86">S</text>
<rect x="621.88" y="337.28" width="14.93" height="2.01"/>
<rect x="621.88" y="342.80" width="14.93" height="2.01"/>
<text transform="translate(646.15 347.25) scale(1 1.0300)" font-size="29.50">400</text>
<text x="704.17" y="347.25" font-size="29.50">K</text>
<path d="M537.3 384.65 H566" stroke="#40e0d0" stroke-width="2.30" fill="none"/>
<text x="580.60" y="388.50" font-size="29.50">T</text>
<text transform="translate(598.62 401.90) scale(1 1.0400)" font-size="20.86">S</text>
<rect x="621.88" y="378.53" width="14.93" height="2.01"/>
<rect x="621.88" y="384.05" width="14.93" height="2.01"/>
<text transform="translate(646.15 388.50) scale(1 1.0300)" font-size="29.50">450</text>
<text x="704.17" y="388.50" font-size="29.50">K</text>
</g>
<g class="t">
<path d="M53.59 34.60 L56.20 34.60 L56.20 13.83 L54.58 13.83 C54.13 15.57 52.45 17.55 49.24 18.04 L49.24 19.93 L53.59 19.93 Z"/>
<text transform="translate(62.69 34.60) scale(1 1.0300)" font-size="30.00">0</text>
<text transform="translate(79.37 16.70) scale(1 1.0600)" font-size="21.21">-2</text>
<path d="M53.59 105.53 L56.20 105.53 L56.20 84.76 L54.58 84.76 C54.13 86.50 52.45 88.48 49.24 88.97 L49.24 90.86 L53.59 90.86 Z"/>
<text transform="translate(62.69 105.53) scale(1 1.0300)" font-size="30.00">0</text>
<text transform="translate(79.37 87.63) scale(1 1.0600)" font-size="21.21">-3</text>
<path d="M53.59 176.46 L56.20 176.46 L56.20 155.69 L54.58 155.69 C54.13 157.43 52.45 159.41 49.24 159.90 L49.24 161.79 L53.59 161.79 Z"/>
<text transform="translate(62.69 176.46) scale(1 1.0300)" font-size="30.00">0</text>
<text transform="translate(79.37 158.56) scale(1 1.0600)" font-size="21.21">-4</text>
<path d="M53.59 247.39 L56.20 247.39 L56.20 226.62 L54.58 226.62 C54.13 228.36 52.45 230.34 49.24 230.83 L49.24 232.72 L53.59 232.72 Z"/>
<text transform="translate(62.69 247.39) scale(1 1.0300)" font-size="30.00">0</text>
<text transform="translate(79.37 229.49) scale(1 1.0600)" font-size="21.21">-5</text>
<path d="M53.59 318.31 L56.20 318.31 L56.20 297.55 L54.58 297.55 C54.13 299.29 52.45 301.26 49.24 301.76 L49.24 303.65 L53.59 303.65 Z"/>
<text transform="translate(62.69 318.31) scale(1 1.0300)" font-size="30.00">0</text>
<text transform="translate(79.37 300.41) scale(1 1.0600)" font-size="21.21">-6</text>
<path d="M53.59 389.24 L56.20 389.24 L56.20 368.47 L54.58 368.47 C54.13 370.22 52.45 372.19 49.24 372.69 L49.24 374.57 L53.59 374.57 Z"/>
<text transform="translate(62.69 389.24) scale(1 1.0300)" font-size="30.00">0</text>
<text transform="translate(79.37 371.34) scale(1 1.0600)" font-size="21.21">-7</text>
<path d="M53.59 460.17 L56.20 460.17 L56.20 439.40 L54.58 439.40 C54.13 441.15 52.45 443.12 49.24 443.62 L49.24 445.50 L53.59 445.50 Z"/>
<text transform="translate(62.69 460.17) scale(1 1.0300)" font-size="30.00">0</text>
<text transform="translate(79.37 442.27) scale(1 1.0600)" font-size="21.21">-8</text>
<path d="M53.59 531.10 L56.20 531.10 L56.20 510.33 L54.58 510.33 C54.13 512.07 52.45 514.05 49.24 514.54 L49.24 516.43 L53.59 516.43 Z"/>
<text transform="translate(62.69 531.10) scale(1 1.0300)" font-size="30.00">0</text>
<text transform="translate(79.37 513.20) scale(1 1.0600)" font-size="21.21">-9</text>
<text transform="translate(96.45 543.10) scale(1 1.0600)" font-size="30.00">0</text>
<text transform="translate(318.75 543.10) scale(1 1.0600)" font-size="30.00">0.5</text>
<path d="M575.59 543.10 L578.20 543.10 L578.20 521.73 L576.58 521.73 C576.13 523.52 574.45 525.55 571.24 526.06 L571.24 528.00 L575.59 528.00 Z"/>
<path d="M795.39 543.10 L798.00 543.10 L798.00 521.73 L796.38 521.73 C795.93 523.52 794.25 525.55 791.04 526.06 L791.04 528.00 L795.39 528.00 Z"/>
<text transform="translate(804.49 543.10) scale(1 1.0600)" font-size="30.00">.5</text>
<text x="377.00" y="579.00" font-size="40.00">k</text>
<text transform="translate(397.80 595.50) scale(1 1.0200)" font-size="28.28">B</text>
<text transform="translate(415.86 579.00) scale(1 1.0200)" font-size="40.00">T</text>
<text x="439.79" y="595.60" font-size="28.28">e</text>
<text x="466.24" y="579.00" font-size="40.00">[e</text>
<text transform="translate(499.60 579.00) scale(1 1.0200)" font-size="40.00">V</text>
<text x="526.28" y="579.00" font-size="40.00">]</text>
<g transform="translate(24.2 283.7) rotate(-90)"><text x="0.00" y="0.00" font-size="40.00">s</text><text x="20.00" y="15.00" font-size="28.28">e</text></g>
</g>
</svg>
</body></html>
